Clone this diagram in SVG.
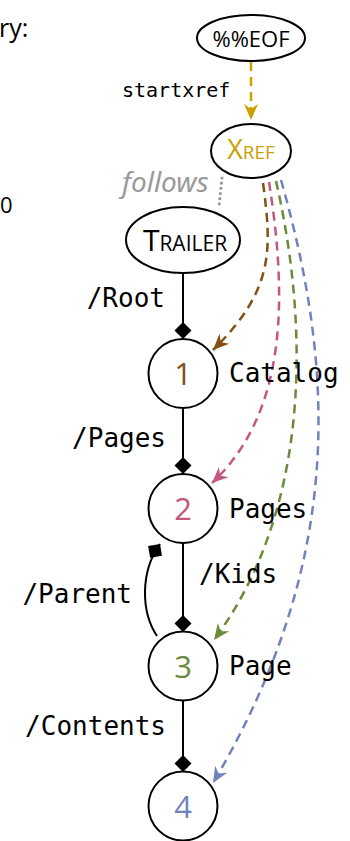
<svg xmlns="http://www.w3.org/2000/svg" width="350" height="841" viewBox="0 0 350 841">
<style>
.node{fill:#fff;stroke:#000;stroke-width:2}
.edge{fill:none;stroke:#000;stroke-width:2}
.ref{fill:none;stroke-width:2.5;stroke-dasharray:9 6}
.lbl{font-family:"DejaVu Sans Mono","Liberation Mono",monospace;font-size:26px;fill:#000}
.small{font-size:20px}
.num{font-family:"Open Sans","DejaVu Sans",sans-serif;font-size:31px;text-anchor:middle}
.sc{font-family:"Open Sans","DejaVu Sans",sans-serif;font-variant:small-caps;text-anchor:middle}
</style>
<defs>
<marker id="dia" markerUnits="userSpaceOnUse" viewBox="-18 -9 19 18" refX="0" refY="0" markerWidth="19" markerHeight="18" orient="auto"><path d="M0,0 L-8.5,-8.5 L-17,0 L-8.5,8.5 Z" fill="#000"/></marker>
<marker id="aGold" markerUnits="userSpaceOnUse" viewBox="-17 -8 18 16" refX="0" refY="0" markerWidth="18" markerHeight="16" orient="auto"><path d="M0,0 L-16,-7 L-11,0 L-16,7 Z" fill="#c9a100"/></marker>
<marker id="aBrown" markerUnits="userSpaceOnUse" viewBox="-17 -8 18 16" refX="0" refY="0" markerWidth="18" markerHeight="16" orient="auto"><path d="M0,0 L-16,-7 L-11,0 L-16,7 Z" fill="#845014"/></marker>
<marker id="aPink" markerUnits="userSpaceOnUse" viewBox="-17 -8 18 16" refX="0" refY="0" markerWidth="18" markerHeight="16" orient="auto"><path d="M0,0 L-16,-7 L-11,0 L-16,7 Z" fill="#c4577e"/></marker>
<marker id="aGreen" markerUnits="userSpaceOnUse" viewBox="-17 -8 18 16" refX="0" refY="0" markerWidth="18" markerHeight="16" orient="auto"><path d="M0,0 L-16,-7 L-11,0 L-16,7 Z" fill="#6b8a3c"/></marker>
<marker id="aBlue" markerUnits="userSpaceOnUse" viewBox="-17 -8 18 16" refX="0" refY="0" markerWidth="18" markerHeight="16" orient="auto"><path d="M0,0 L-16,-7 L-11,0 L-16,7 Z" fill="#7282bd"/></marker>
</defs>
<rect width="350" height="841" fill="#fff"/>
<text x="-1" y="37" font-family="Open Sans, DejaVu Sans, sans-serif" font-size="25">ry:</text>
<text x="0" y="213" font-family="Open Sans, DejaVu Sans, sans-serif" font-size="22">0</text>
<g id="connectors">
<path class="ref" stroke="#c9a100" d="M251,62 L251,120" marker-end="url(#aGold)"/>
<path fill="none" stroke="#999" stroke-width="3.2" stroke-linecap="round" stroke-dasharray="0 5.2" d="M222,178 L219,207"/>
<path class="edge" d="M183,273 L183,339" marker-end="url(#dia)"/>
<path class="edge" d="M183,408 L183,474" marker-end="url(#dia)"/>
<path class="edge" d="M183,543 L183,632" marker-end="url(#dia)"/>
<path class="edge" d="M183,700 L183,772" marker-end="url(#dia)"/>
<path class="edge" d="M157,636 C141,612 140,572 160,544" marker-end="url(#dia)"/>
<path class="ref" stroke="#845014" d="M263,183 C272,250 274,290 213,350" marker-end="url(#aBrown)"/>
<path class="ref" stroke="#c4577e" d="M269,182 C286,290 290,410 212,483" marker-end="url(#aPink)"/>
<path class="ref" stroke="#6b8a3c" d="M276,181 C310,330 310,510 214,640" marker-end="url(#aGreen)"/>
<path class="ref" stroke="#7282bd" d="M281,180 C335,370 345,560 213,783" marker-end="url(#aBlue)"/>
<text class="lbl small" x="122" y="97">startxref</text>
<text x="122" y="192" font-family="Noto Sans, DejaVu Sans, sans-serif" font-style="italic" font-size="28" fill="#999">follows</text>
<text class="lbl" x="165" y="307" text-anchor="end">/Root</text>
<text class="lbl" x="166" y="447" text-anchor="end">/Pages</text>
<text class="lbl" x="199" y="583">/Kids</text>
<text class="lbl" x="132" y="603" text-anchor="end">/Parent</text>
<text class="lbl" x="166" y="735" text-anchor="end">/Contents</text>
</g>
<g id="eof">
<ellipse class="node" cx="251" cy="38" rx="54" ry="23"/>
<text x="251" y="47" font-family="Open Sans, DejaVu Sans, sans-serif" font-size="22" text-anchor="middle">%%EOF</text>
</g>
<g id="xref">
<ellipse class="node" cx="251" cy="151" rx="40" ry="27"/>
<text class="sc" x="251" y="159" font-size="27" fill="#c9a100">Xref</text>
</g>
<g id="trailer">
<ellipse class="node" cx="183" cy="240" rx="57" ry="33"/>
<text class="sc" x="185" y="251" font-size="30" fill="#000">Trailer</text>
</g>
<g id="n1">
<circle class="node" cx="183" cy="373.5" r="34.5"/>
<text class="num" x="183" y="385" fill="#845014">1</text>
<text class="lbl" x="229" y="382">Catalog</text>
</g>
<g id="n2">
<circle class="node" cx="183" cy="508.5" r="34.5"/>
<text class="num" x="183" y="520" fill="#c4577e">2</text>
<text class="lbl" x="229" y="518">Pages</text>
</g>
<g id="n3">
<circle class="node" cx="183" cy="666" r="34.5"/>
<text class="num" x="183" y="678" fill="#6b8a3c">3</text>
<text class="lbl" x="229" y="675">Page</text>
</g>
<g id="n4">
<circle class="node" cx="183" cy="806" r="34.5"/>
<text class="num" x="183" y="818" fill="#7282bd">4</text>
</g>
</svg>
